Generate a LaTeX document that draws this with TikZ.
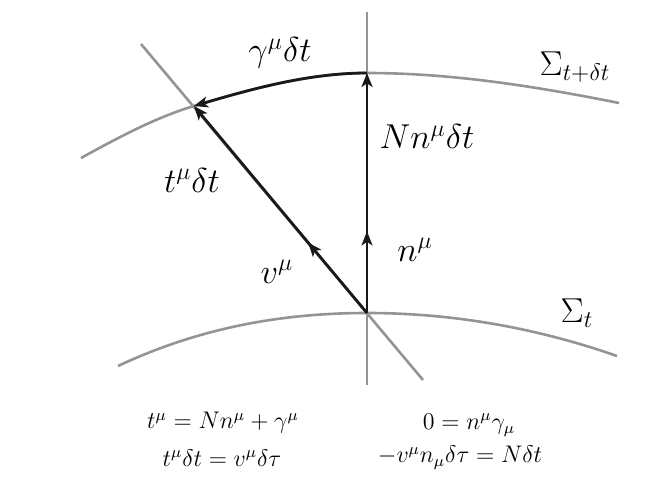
\documentclass[tikz,border=0pt]{standalone}
\usetikzlibrary{arrows.meta,decorations.markings}
\begin{document}
\begin{tikzpicture}[x=0.5pt,y=-0.5pt,line join=round]
  \tikzstyle{slice}=[draw=black!42, line width=1.3pt]
  \tikzstyle{vec}=[draw=black!90, line width=1.4pt, -{Stealth[length=7pt,width=5.5pt,inset=1.8pt]}]
  \tikzstyle{midarrow}=[postaction={decorate}, decoration={markings,
      mark=at position 0.34 with {\arrow{Stealth[length=7pt,width=5.5pt,inset=1.8pt]}}}]
  \tikzstyle{lbl}=[font=\LARGE, inner sep=0pt]
  \tikzstyle{eq}=[font=\large, inner sep=0pt]
  \useasboundingbox (0,0) rectangle (665,492);
  % points on the slices
  \coordinate (O) at (367,313);
  \coordinate (P) at (367,73);
  \coordinate (Q) at (194,106);
  \coordinate (top) at (367,12);
  \coordinate (bot) at (367,385);
  \coordinate (far) at (141,44);
  \coordinate (near) at (423,380);
  % slices and normals
  \draw[slice] (118,366) .. controls (201,327) and (284,313) .. (O)
               .. controls (450,313) and (534,327) .. (617,356);
  \draw[slice] (81,158) .. controls (118.7,137.3) and (156.3,117.2) .. (Q)
               .. controls (251.7,88.9) and (309.3,73) .. (P)
               .. controls (451,73) and (535,86.2) .. (619,103);
  \draw[slice] (top) -- (bot);
  \draw[slice] (far) -- (near);
  % vectors
  \draw[vec,midarrow] (O) -- (P);
  \draw[vec,midarrow] (O) -- (Q);
  \draw[vec] (P) .. controls (309.3,73) and (251.7,88.9) .. (Q);
  % labels
  \node[lbl] (gam) at (280,53) {$\gamma^\mu\delta t$};
  \node[lbl] (sig2) at (575,67) {$\Sigma_{t+\delta t}$};
  \node[lbl] (Nn) at (427,137) {$Nn^\mu\delta t$};
  \node[lbl] (tdt) at (192,180) {$t^\mu\delta t$};
  \node[lbl] (v) at (277,272) {$v^\mu$};
  \node[lbl] (n) at (415,250) {$n^\mu$};
  \node[lbl] (sig1) at (577,313) {$\Sigma_t$};
  % relations
  \node[eq] (e1) at (223,423) {$t^\mu=Nn^\mu+\gamma^\mu$};
  \node[eq] (e2) at (469,425) {$0=n^\mu\gamma_\mu$};
  \node[eq] (e3) at (222,458) {$t^\mu\delta t=v^\mu\delta\tau$};
  \node[eq] (e4) at (460,458) {$-v^\mu n_\mu\delta\tau=N\delta t$};
\end{tikzpicture}
\end{document}
